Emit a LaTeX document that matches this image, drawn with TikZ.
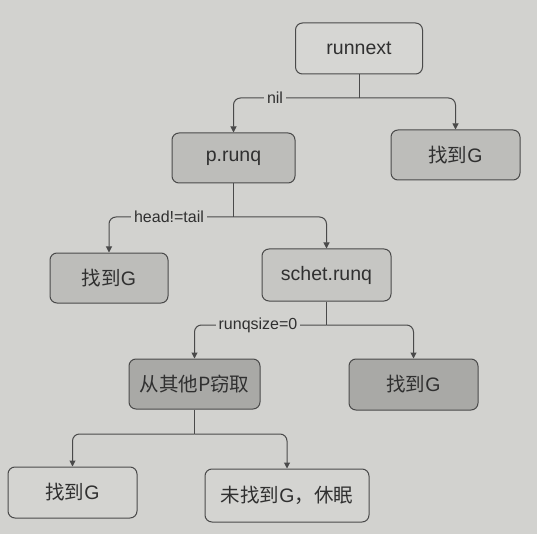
\documentclass[tikz,border=0pt]{standalone}
\usepackage{fontspec}
\setmainfont{Liberation Sans}
\newfontfamily\cjk{Noto Sans CJK SC}
\usetikzlibrary{arrows.meta}
\definecolor{bgc}{HTML}{D2D2CF}
\definecolor{boxA}{HTML}{D6D6D3}
\definecolor{boxB}{HTML}{BDBDBA}
\definecolor{boxC}{HTML}{C6C6C3}
\definecolor{boxD}{HTML}{A9A9A6}
\definecolor{boxE}{HTML}{D4D4D1}
\definecolor{edge}{HTML}{4A4A4A}
\definecolor{txt}{HTML}{303030}
\tikzset{
  box/.style={draw=edge, line width=1pt, rounded corners=7pt, text=txt,
    font=\fontsize{19.5}{21}\selectfont, inner sep=0pt},
  lbl/.style={fill=bgc, text=txt, font=\fontsize{16}{18}\selectfont, inner sep=3pt},
  conn/.style={draw=edge, line width=1pt, rounded corners=7pt},
  arr/.style={conn, -{Triangle[length=6pt,width=6pt]}},
}
\begin{document}
\begin{tikzpicture}[x=1pt,y=-1pt]
\fill[bgc] (0,0) rectangle (537,534);
\useasboundingbox (0,0) rectangle (537,534);

\node[box, fill=boxA, minimum width=127pt, minimum height=51pt] (runnext) at (359,48.5) {runnext};
\node[box, fill=boxB, minimum width=123pt, minimum height=50pt] (prunq) at (233.5,158) {p.runq};
\node[box, fill=boxB, minimum width=129pt, minimum height=50pt] (g1) at (455.5,155) {{\cjk 找到}G};
\node[box, fill=boxB, minimum width=118pt, minimum height=50pt] (g2) at (109,278) {{\cjk 找到}G};
\node[box, fill=boxC, minimum width=129pt, minimum height=52pt] (schet) at (326.5,275) {schet.runq};
\node[box, fill=boxD, minimum width=131pt, minimum height=50pt] (steal) at (194.5,384) {\cjk 从其他P窃取};
\node[box, fill=boxD, minimum width=129pt, minimum height=51pt] (g3) at (413.5,384.5) {{\cjk 找到}G};
\node[box, fill=boxE, minimum width=129pt, minimum height=51pt] (g4) at (72.5,492.5) {{\cjk 找到}G};
\node[box, fill=boxE, minimum width=164pt, minimum height=53pt] (sleep) at (287,495.5) {{\cjk 未找到}G{\cjk ，休眠}};

\coordinate (j1) at (359,98);
\coordinate (j2) at (233.5,217);
\coordinate (j3) at (326.5,325);
\coordinate (j4) at (194.5,434);

\draw[conn] (runnext.south) -- (j1);
\draw[arr] (j1) -| (prunq.north);
\draw[arr] (j1) -| (g1.north);
\node[lbl] (nil) at (275,98) {nil};

\draw[conn] (prunq.south) -- (j2);
\draw[arr] (j2) -| (g2.north);
\draw[arr] (j2) -| (schet.north);
\node[lbl] (ht) at (169,217) {head!=tail};

\draw[conn] (schet.south) -- (j3);
\draw[arr] (j3) -| (steal.north);
\draw[arr] (j3) -| (g3.north);
\node[lbl] (rs) at (258,325) {runqsize=0};

\draw[conn] (steal.south) -- (j4);
\draw[arr] (j4) -| (g4.north);
\draw[arr] (j4) -| (sleep.north);
\end{tikzpicture}
\end{document}
